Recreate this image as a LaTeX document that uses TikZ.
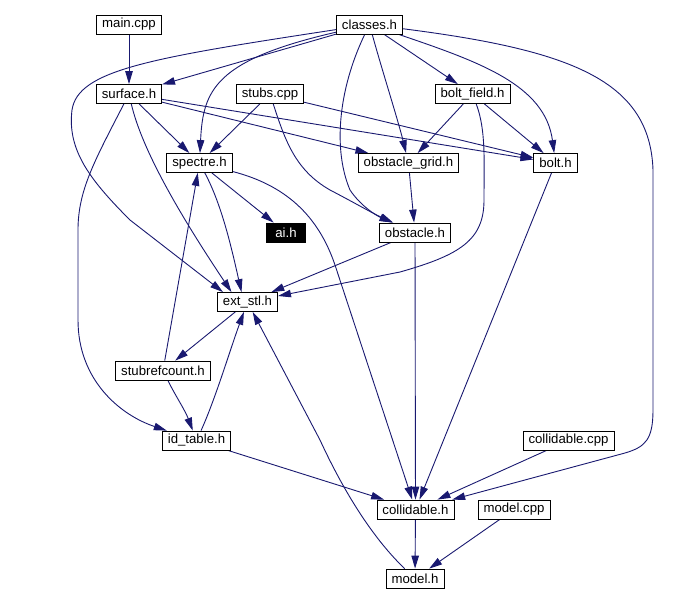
\documentclass[tikz,border=0pt]{standalone}
\usepackage{fontspec}
\setmainfont{Liberation Sans}
\usetikzlibrary{arrows.meta}
\pgfdeclarelayer{bg}
\pgfsetlayers{bg,main}
\definecolor{incblue}{HTML}{191970}

\begin{document}
\begin{tikzpicture}[x=1pt, y=-1pt,
    filebox/.style = {draw = black, line width=0.8pt, fill=white, inner xsep=5.5pt, inner ysep=0pt,
                      minimum height=19pt, minimum width=39pt, font=\fontsize{13.2}{15}\selectfont},
    incl/.style = {color = incblue, fill=none, line width=0.9pt, -{Triangle[length=13pt, width=7.5pt]}}]
  \useasboundingbox (0,0) rectangle (680,603);
      \node [filebox] (main) at (129,24.5) {main.cpp};
      \node [filebox] (cls) at (369.5,24.5) {classes.h};
      \node [filebox] (surf) at (129,94) {surface.h};
      \node [filebox] (stubs) at (270,94) {stubs.cpp};
      \node [filebox] (bfld) at (472.5,94) {bolt\_field.h};
      \node [filebox] (spec) at (199.5,163) {spectre.h};
      \node [filebox] (ogrid) at (408.5,163) {obstacle\_grid.h};
      \node [filebox] (bolt) at (555.5,163) {bolt.h};
      \node [filebox, fill=black, text=white] (ai) at (286,232.5) {ai.h};
      \node [filebox] (obst) at (415,232.5) {obstacle.h};
      \node [filebox] (ext) at (247.5,302) {ext\_stl.h};
      \node [filebox] (sref) at (163,370.5) {stubrefcount.h};
      \node [filebox] (idt) at (196.5,440.5) {id\_table.h};
      \node [filebox] (ccpp) at (568.5,440.5) {collidable.cpp};
      \node [filebox] (coll) at (415.5,509.5) {collidable.h};
      \node [filebox] (mcpp) at (514,509.5) {model.cpp};
      \node [filebox] (model) at (415,578.5) {model.h};
%      \draw [help lines] (0,0) grid[step=50] (680,603);
      \begin{pgfonlayer}{bg}
        \draw [incl] (main) -- (surf);
        \draw [incl] (cls) -- (surf);
        \draw [incl] (cls) .. controls (150,58) and (78,70) .. (72,110)
                           .. controls (67,150) and (90,180) .. (130,220)
                           -- ([xshift=6pt]ext.north west);
        \draw [incl] (cls) .. controls (215,60) and (203,90) .. (spec);
        \draw [incl] (cls) .. controls (338,90) and (333,150) .. (350,190)
                           .. controls (360,205) and (375,215) .. (obst);
        \draw [incl] (cls) .. controls (382,70) and (398,120) .. (ogrid);
        \draw [incl] (cls) -- (bfld);
        \draw [incl] (cls) .. controls (480,62) and (545,85) .. (bolt);
        \draw [incl] (cls) .. controls (570,50) and (650,80) .. (653,170) -- (653,410)
                           .. controls (653,440) and (645,447) .. (625,453) -- (coll);
        \draw [incl] (surf) -- (spec);
        \draw [incl] (surf) -- (ogrid);
        \draw [incl] (surf) -- (bolt);
        \draw [incl] (surf) .. controls (142,150) and (180,215) .. ([xshift=-16pt]ext.north);
        \draw [incl] (surf) .. controls (95,160) and (78,190) .. (78,230) -- (78,320)
                            .. controls (78,380) and (120,415) .. (idt);
        \draw [incl] (stubs) -- (spec);
        \draw [incl] (stubs) .. controls (285,140) and (295,170) .. (330,190)
                             .. controls (355,203) and (372,213) .. (obst);
        \draw [incl] (stubs) -- (bolt);
        \draw [incl] (bfld) -- (ogrid);
        \draw [incl] (bfld) -- (bolt);
        \draw [incl] (bfld) .. controls (486,130) and (484,160) .. (484,200)
                            .. controls (484,240) and (460,255) .. (400,272) -- (ext);
        \draw [incl] (spec) -- (ai);
        \draw [incl] (spec) .. controls (222,205) and (232,250) .. ([xshift=-6pt]ext.north);
        \draw [incl] (spec) .. controls (285,185) and (318,215) .. (335,265) -- (coll);
        \draw [incl] (ogrid) -- (obst);
        \draw [incl] (obst) -- (ext);
        \draw [incl] (obst) -- (coll);
        \draw [incl] (bolt) -- (coll);
        \draw [incl] (ext) -- (sref);
        \draw [incl] (sref) -- (spec);
        \draw [incl] (sref) .. controls (175,395) and (185,410) .. (idt);
        \draw [incl] (idt) .. controls (215,400) and (230,350) .. (ext);
        \draw [incl] (idt) -- (coll);
        \draw [incl] (ccpp) -- (coll);
        \draw [incl] (coll) -- (model);
        \draw [incl] (mcpp) -- (model);
        \draw [incl] (model) .. controls (380,545) and (350,505) .. (320,440) -- (ext);
      \end{pgfonlayer}
\end{tikzpicture}
\end{document}
